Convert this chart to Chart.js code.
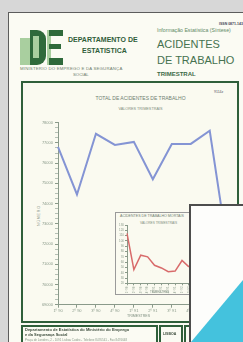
<!DOCTYPE html>
<html>
<head>
<meta charset="utf-8">
<script src="https://cdn.jsdelivr.net/npm/chart.js@4/dist/chart.umd.min.js"></script>
<style>
body{margin:0;width:243px;height:342px;overflow:hidden;background:#d7d7d7;position:relative;font-family:"Liberation Sans",Arial,sans-serif;}
.abs{position:absolute;}
.txt{position:absolute;white-space:nowrap;}
</style>
</head>
<body>
<div class="abs" style="left:8px;top:12px;width:270px;height:360px;border:1.5px solid #5c5c5c;background:#fbfbf3;"></div>

<!-- logo -->
<div class="abs" style="left:20px;top:38px;width:10px;height:27px;background:#a9cf9f;"></div>
<div class="abs" style="left:30px;top:30px;width:16px;height:35px;background:#2f6a3b;border-radius:0 9px 9px 0;"></div>
<div class="abs" style="left:33px;top:36px;width:6px;height:22px;background:#a9cf9f;"></div>
<div class="abs" style="left:47px;top:30px;width:4px;height:35px;background:#a9cf9f;"></div>
<div class="abs" style="left:49px;top:30px;width:14px;height:6px;background:#2f6a3b;"></div>
<div class="abs" style="left:49px;top:44px;width:12px;height:5px;background:#2f6a3b;"></div>
<div class="abs" style="left:49px;top:58px;width:14px;height:7px;background:#2f6a3b;"></div>

<div class="txt" style="left:68px;top:36px;font-size:7px;font-weight:bold;color:#2f5d3a;">DEPARTAMENTO DE</div>
<div class="txt" style="left:82px;top:47px;font-size:7px;font-weight:bold;color:#2f5d3a;">ESTATISTICA</div>
<div class="txt" style="left:20px;top:66px;font-size:4.3px;color:#6f7f6f;letter-spacing:0.2px;">MINISTERIO DO EMPREGO E DA SEGURANÇA</div>
<div class="txt" style="left:73px;top:72px;font-size:4.3px;color:#6f7f6f;">SOCIAL</div>

<div class="txt" style="left:219px;top:22px;font-size:3.5px;font-weight:bold;color:#445;">ISSN 0871-1437</div>
<div class="txt" style="left:157px;top:27px;font-size:5.2px;color:#5f8a66;">Informação Estatística (Síntese)</div>
<div class="txt" style="left:157px;top:38px;font-size:11px;color:#46724f;">ACIDENTES</div>
<div class="txt" style="left:157px;top:54px;font-size:11px;color:#46724f;">DE TRABALHO</div>
<div class="txt" style="left:157px;top:71px;font-size:6px;font-weight:bold;color:#3b6a46;">TRIMESTRAL</div>

<!-- chart box -->
<div class="abs" style="left:21px;top:81px;width:218px;height:242px;box-sizing:border-box;border:2px solid #2f5f3a;background:#fafaf0;"></div>
<div class="txt" style="left:214px;top:90px;font-size:3.5px;color:#556;">9114z</div>
<div class="txt" style="left:0;width:281px;text-align:center;top:95px;font-size:5px;color:#6f7f70;">TOTAL DE ACIDENTES DE TRABALHO</div>
<div class="txt" style="left:0;width:281px;text-align:center;top:107px;font-size:3.8px;color:#7f8f80;">VALORES TRIMESTRAIS</div>
<div class="txt" style="left:37px;top:226px;font-size:3.6px;letter-spacing:0.8px;color:#7f8f80;transform:rotate(-90deg);transform-origin:left top;">NÚMERO</div>
<canvas id="principal" width="217" height="237" class="abs" style="left:22px;top:84px;"></canvas>
<div class="txt" style="left:127px;top:314px;font-size:3.6px;color:#7f8f80;">TRIMESTRES</div>

<!-- inset -->
<div class="abs" style="left:115px;top:212px;width:90px;height:83px;box-sizing:border-box;border:1px solid #9a9a9a;background:#fafaf0;"></div>
<div class="txt" style="left:120px;top:214px;font-size:3.6px;color:#6f7f70;">ACIDENTES DE TRABALHO MORTAIS</div>
<div class="txt" style="left:140px;top:221px;font-size:3.2px;color:#7f8f80;">VALORES TRIMESTRAIS</div>
<canvas id="mortais" width="85" height="81" class="abs" style="left:115px;top:213px;"></canvas>
<div class="txt" style="left:150px;top:290px;font-size:3px;color:#7f8f80;">TRIMESTRES</div>

<!-- bottom boxes -->
<div class="abs" style="left:21px;top:325px;width:137px;height:30px;box-sizing:border-box;border:2px solid #2f5f3a;"></div>
<div class="txt" style="left:25px;top:327px;font-size:4px;font-weight:bold;color:#3a4a3a;">Departamento de Estatística do Ministério do Emprego</div>
<div class="txt" style="left:25px;top:332px;font-size:4px;font-weight:bold;color:#3a4a3a;">e da Segurança Social</div>
<div class="txt" style="left:25px;top:338px;font-size:3px;color:#8a9a8a;">Praça de Londres, 2 - 1091 Lisboa Codex - Telefone 8476541 - Fax 8476648</div>
<div class="abs" style="left:159px;top:325px;width:24px;height:30px;box-sizing:border-box;border:2px solid #2f5f3a;"></div>
<div class="txt" style="left:163px;top:332px;font-size:3.5px;font-weight:bold;color:#3a4a3a;">LISBOA</div>
<div class="abs" style="left:184px;top:325px;width:60px;height:30px;box-sizing:border-box;border:2px solid #2f5f3a;"></div>

<!-- card over the cover -->
<div class="abs" style="left:189px;top:204px;width:70px;height:150px;box-sizing:border-box;border:2px solid #4d4d4d;background:#fdfdfb;"></div>
<div class="abs" style="left:191px;top:280px;width:52px;height:62px;background:#44c2dd;clip-path:polygon(100% 0,100% 100%,0 100%);"></div>

<script>
var trimestres = ['1º 90','2º 90','3º 90','4º 90','1º 91','2º 91','3º 91','4º 91','1º 92','2º 92'];
var totalAcidentes = [76800, 74450, 77450, 76900, 77050, 75200, 76950, 76950, 77600, 71400];
var acidentesMortais = [114, 46, 73, 70, 54, 49, 42, 43, 63, 51];

var eixo = '#8a9a8a';

new Chart(document.getElementById('principal'), {
    type: 'line',
    data: {
        labels: trimestres,
        datasets: [{
            data: totalAcidentes,
            borderColor: '#8494d4',
            borderWidth: 2,
            pointRadius: 0,
            tension: 0
        }]
    },
    options: {
        responsive: false,
        animation: false,
        plugins: {legend: {display: false}, tooltip: {enabled: false}},
        layout: {padding: {top: 38.7, right: 10.3, left: 0, bottom: 0}},
        scales: {
            x: {
                offset: false,
                grid: {drawOnChartArea: false, color: eixo, tickLength: 3},
                border: {color: eixo},
                ticks: {font: {size: 4}, color: eixo, maxRotation: 0, autoSkip: false, padding: 1},
                afterFit: function(s){ s.height = 16.3; }
            },
            y: {
                min: 69000,
                max: 78000,
                grid: {drawOnChartArea: false, tickLength: 3,
                    tickColor: function(c){ return c.tick && c.tick.value % 1000 === 0 ? eixo : '#b5c0b5'; }},
                border: {color: eixo},
                ticks: {stepSize: 250, autoSkip: false, font: {size: 4}, color: eixo, padding: 2,
                    callback: function(v){ return v % 1000 === 0 ? v : ''; }},
                afterFit: function(s){ s.width = 36; }
            }
        }
    }
});

new Chart(document.getElementById('mortais'), {
    type: 'line',
    data: {
        labels: trimestres,
        datasets: [{
            data: acidentesMortais,
            borderColor: '#d86b6b',
            borderWidth: 1.5,
            pointRadius: 0,
            tension: 0
        }]
    },
    options: {
        responsive: false,
        animation: false,
        plugins: {legend: {display: false}, tooltip: {enabled: false}},
        layout: {padding: {top: 12, right: 11.1, left: 0, bottom: 0}},
        scales: {
            x: {
                offset: false,
                grid: {drawOnChartArea: false, color: eixo, tickLength: 2},
                border: {color: eixo},
                ticks: {font: {size: 3}, color: eixo, minRotation: 90, maxRotation: 90, autoSkip: false, padding: 1},
                afterFit: function(s){ s.height = 10.7; }
            },
            y: {
                min: 20,
                max: 130,
                grid: {drawOnChartArea: false, color: eixo, tickLength: 2},
                border: {color: eixo},
                ticks: {stepSize: 10, autoSkip: false, font: {size: 3}, color: eixo, padding: 1},
                afterFit: function(s){ s.width = 12; }
            }
        }
    }
});
</script>
</body>
</html>
